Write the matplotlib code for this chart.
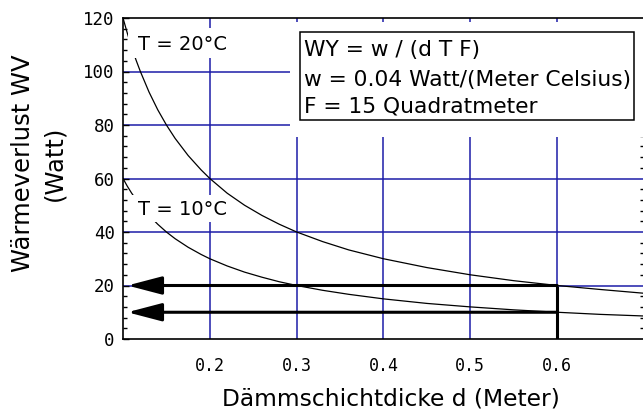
"""Waermeverlust durch eine Daemmschicht: WV ueber der Schichtdicke d."""
import matplotlib
matplotlib.use('Agg')
import matplotlib.pyplot as plt
from matplotlib.patches import Rectangle
from matplotlib.ticker import MultipleLocator

dicke = [0.100, 0.105, 0.110, 0.115, 0.120, 0.130, 0.140, 0.150, 0.160, 0.175,
         0.190, 0.200, 0.220, 0.240, 0.260, 0.280, 0.300, 0.330, 0.360, 0.400,
         0.450, 0.500, 0.550, 0.600, 0.650, 0.700]
wv_20 = [120, 114.3, 109.1, 104.3, 100, 92.3, 85.7, 80, 75, 68.6,
         63.2, 60, 54.5, 50, 46.2, 42.9, 40, 36.4, 33.3, 30,
         26.7, 24, 21.8, 20, 18.5, 17.1]
wv_10 = [60, 57.1, 54.5, 52.2, 50, 46.2, 42.9, 40, 37.5, 34.3,
         31.6, 30, 27.3, 25, 23.1, 21.4, 20, 18.2, 16.7, 15,
         13.3, 12, 10.9, 10, 9.2, 8.6]

x_ticks = [0.2, 0.3, 0.4, 0.5, 0.6]
y_ticks = [0, 20, 40, 60, 80, 100, 120]

# Ablesung bei d = 0.6 m
d_ablesung = 0.6
wv_ablesung = [20, 10]

formel = ['WY = w / (d T F)',
          'w = 0.04 Watt/(Meter Celsius)',
          'F = 15 Quadratmeter']

GRID = '#1c1ca8'

fig = plt.figure(figsize=(6.43, 4.12), dpi=100)
W, H = 643, 412
ax = fig.add_axes([123 / W, (H - 339) / H, 521 / W, 321 / H])

ax.set_xlim(0.1, 0.7)
ax.set_ylim(0, 120)

# grid
for xv in x_ticks:
    ax.axvline(xv, color=GRID, lw=1.1, zorder=1)
for yv in y_ticks[1:-1]:
    ax.axhline(yv, color=GRID, lw=1.1, zorder=1)

# curves
ax.plot(dicke, wv_20, color='black', lw=0.9, zorder=3)
ax.plot(dicke, wv_10, color='black', lw=0.9, zorder=3)

# arrows from d = 0.6 to the WV axis
for yv in wv_ablesung:
    ax.annotate('', xy=(0.105, yv), xytext=(d_ablesung, yv),
                arrowprops=dict(arrowstyle='-|>,head_length=2.1,head_width=0.55',
                                lw=2.2, color='black', shrinkA=0, shrinkB=0,
                                mutation_scale=10),
                zorder=5)
ax.plot([d_ablesung, d_ablesung], [0, max(wv_ablesung)], color='black',
        lw=2.2, zorder=5, solid_capstyle='butt')

# curve labels, with a white patch that breaks curve and grid
ax.add_patch(Rectangle((0.1057, 105.0), 0.115, 11.4, facecolor='white',
                       edgecolor='none', zorder=3.5))
ax.text(0.117, 110, 'T = 20°C', fontsize=14, va='center', ha='left', zorder=4)
ax.add_patch(Rectangle((0.1103, 43.7), 0.110, 10.1, facecolor='white',
                       edgecolor='none', zorder=3.5))
ax.text(0.117, 48.5, 'T = 10°C', fontsize=14, va='center', ha='left', zorder=4)

# formula box
ax.add_patch(Rectangle((0.321, 0.629), 0.679, 0.359, transform=ax.transAxes,
                       facecolor='white', edgecolor='none', zorder=2))
ax.add_patch(Rectangle((0.340, 0.682), 0.641, 0.275, transform=ax.transAxes,
                       facecolor='white', edgecolor='black', lw=1.1, zorder=6))
for line, yy in zip(formel, [0.900, 0.807, 0.723]):
    ax.text(0.347, yy, line, transform=ax.transAxes, fontsize=15.7,
            va='center', ha='left', zorder=7)

# axes styling
ax.set_xticks(x_ticks)
ax.set_xticklabels([f'{v:.1f}' for v in x_ticks], family='DejaVu Sans Mono',
                   fontsize=12)
ax.set_yticks(y_ticks)
ax.set_yticklabels([str(v) for v in y_ticks], family='DejaVu Sans Mono',
                   fontsize=12.5)
ax.yaxis.set_minor_locator(MultipleLocator(4))
ax.tick_params(axis='x', which='both', length=0, pad=13)
ax.tick_params(axis='y', which='major', direction='in', length=4, width=1,
               pad=6)
ax.tick_params(axis='y', which='minor', direction='in', length=3, width=1,
               right=True)
ax.spines['right'].set_visible(False)
for s in ['left', 'bottom', 'top']:
    ax.spines[s].set_linewidth(1.2)

ax.set_xlabel('Dämmschichtdicke d (Meter)', fontsize=16.8)
ax.xaxis.set_label_coords(0.514, -0.150)
ax.set_ylabel('Wärmeverlust WV\n(Watt)', fontsize=17.5, linespacing=1.4)
ax.yaxis.set_label_coords(-0.108, 0.548)

fig.savefig('out.png', dpi=100)
